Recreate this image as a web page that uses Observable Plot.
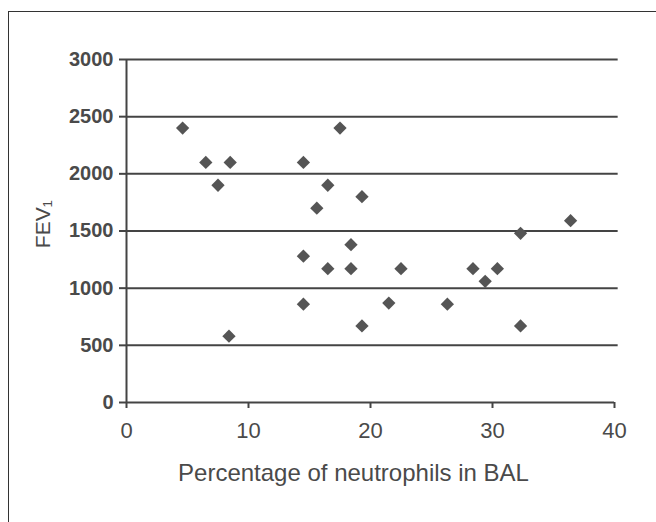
<!DOCTYPE html>
<html>
<head>
<meta charset="utf-8">
<script src="https://cdn.jsdelivr.net/npm/d3@7"></script>
<script src="https://cdn.jsdelivr.net/npm/@observablehq/plot@0.6"></script>
<style>
  html, body { margin: 0; padding: 0; background: #fff; }
  #wrap { position: relative; width: 656px; height: 522px; overflow: hidden; }
  #frame { position: absolute; left: 8px; top: 11px; width: 700px; height: 600px;
           border-left: 1.5px solid #333; border-top: 1.5px solid #333; }
  #chart { position: absolute; left: 0; top: 0; }
</style>
</head>
<body>
<div id="wrap"><div id="frame"></div><div id="chart"></div></div>
<script>
// Percentage of neutrophils in BAL
const neutrophils = [4.6, 6.5, 8.5, 7.5, 8.4, 14.5, 17.5, 16.5, 15.6, 19.3, 14.5, 16.5, 18.4, 18.4, 14.5, 19.3, 21.5, 22.5, 26.3, 28.4, 29.4, 30.4, 32.3, 32.3, 36.4];
// FEV1
const fev1 = [2400, 2100, 2100, 1900, 580, 2100, 2400, 1900, 1700, 1800, 1280, 1170, 1380, 1170, 860, 670, 870, 1170, 860, 1170, 1060, 1170, 1480, 670, 1590];
const xTicks = [0, 10, 20, 30, 40];
const yTicks = [0, 500, 1000, 1500, 2000, 2500, 3000];
const gridValues = [500, 1000, 1500, 2000, 2500, 3000];
const xLabel = "Percentage of neutrophils in BAL";
const yLabel = "FEV\u2081";

const points = neutrophils.map((x, i) => ({x, y: fev1[i]}));
const ink = "#444";

const chart = Plot.plot({
  width: 656,
  height: 522,
  marginLeft: 126,
  marginRight: 42,
  marginTop: 59,
  marginBottom: 120,
  style: {fontFamily: "'Liberation Sans', Arial, sans-serif", background: "transparent"},
  x: {domain: [0, 40]},
  y: {domain: [0, 3000]},
  marks: [
    Plot.ruleY(gridValues, {x1: 0, x2: 40.3, stroke: ink, strokeWidth: 2}),
    Plot.ruleY([0], {x1: 0, x2: 40, stroke: ink, strokeWidth: 2}),
    Plot.ruleX([0], {y1: 0, y2: 3000, stroke: ink, strokeWidth: 2}),
    Plot.axisY({ticks: yTicks, tickSize: 7, tickPadding: 6, tickFormat: d => String(d),
      label: null, fontSize: 20, fontWeight: "bold", fill: "#4a4a4a", stroke: ink, strokeWidth: 2}),
    Plot.axisX({ticks: xTicks, tickSize: 6, tickPadding: 14, tickFormat: d => String(d),
      label: null, fontSize: 22, fill: "#4a4a4a", stroke: ink, strokeWidth: 2}),
    Plot.dot(points, {x: "x", y: "y", symbol: "square", rotate: 45, r: 5.3, fill: "#555", stroke: "none"}),
    Plot.text([yLabel], {frameAnchor: "left", y: () => 1350, dx: -83, rotate: -90, fontSize: 21, fill: "#4a4a4a", text: d => d}),
    Plot.text([xLabel], {frameAnchor: "bottom", dx: -17, dy: 78, fontSize: 24, fill: "#4a4a4a", text: d => d})
  ]
});
document.getElementById("chart").appendChild(chart);
</script>
</body>
</html>
